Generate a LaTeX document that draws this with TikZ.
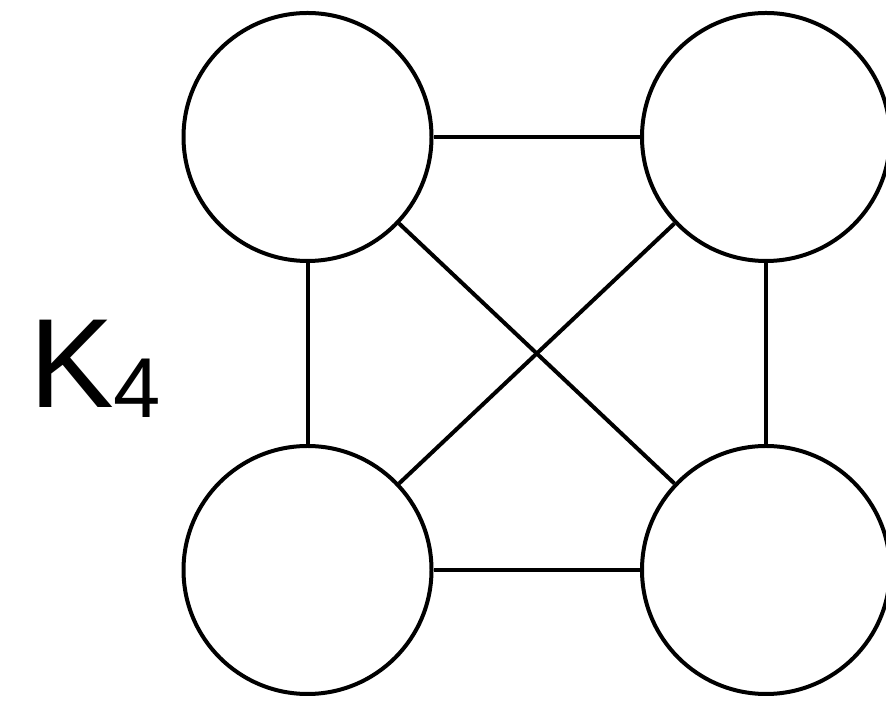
\documentclass[tikz,border=0pt]{standalone}
\usepackage{fontspec}
\setmainfont{Liberation Sans}
\begin{document}
\begin{tikzpicture}[x=1pt,y=1pt,
  vert/.style={circle,draw=black,line width=4pt,minimum size=248pt,inner sep=0pt,fill=white},
  edge/.style={draw=black,line width=4pt}]
\useasboundingbox[fill=white] (0,0) rectangle (886,701);
\node[vert] (tl) at (307.5,564) {};
\node[vert] (tr) at (766,564) {};
\node[vert] (bl) at (307.5,131) {};
\node[vert] (br) at (766,131) {};
\draw[edge] (tl) -- (tr);
\draw[edge] (bl) -- (br);
\draw[edge] (tl) -- (bl);
\draw[edge] (tr) -- (br);
\draw[edge] (tl) -- (br);
\draw[edge] (tr) -- (bl);
\node[anchor=base west,inner sep=0pt] (lbl) at (29,293) {\fontsize{127}{127}\selectfont K\fontsize{85}{85}\selectfont\raisebox{-10pt}{4}};
\end{tikzpicture}
\end{document}
